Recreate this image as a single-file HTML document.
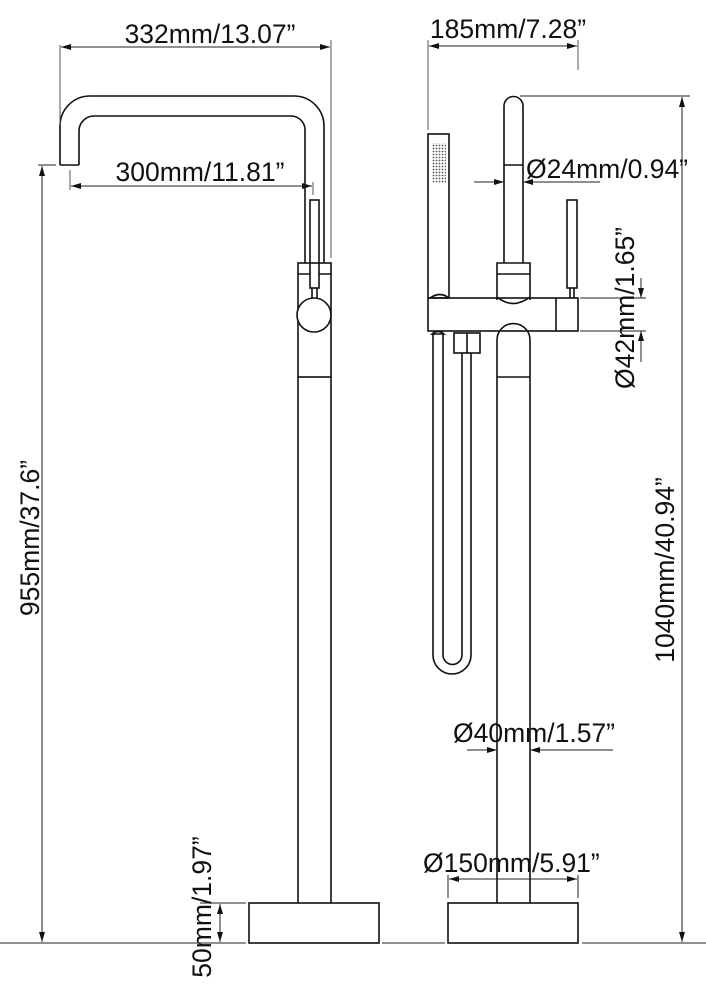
<!DOCTYPE html>
<html><head><meta charset="utf-8"><style>
html,body{margin:0;padding:0;background:#fff}
svg{display:block}
text{font-family:"Liberation Sans",sans-serif;font-size:26.5px;fill:#111}
</style></head><body>
<svg width="706" height="990" viewBox="0 0 706 990" xmlns="http://www.w3.org/2000/svg">
<defs>
<marker id="a" viewBox="0 0 10 6" refX="10" refY="3" markerWidth="14" markerHeight="6" markerUnits="userSpaceOnUse" orient="auto-start-reverse"><path d="M0,0L10,3L0,6z" fill="#111"/></marker>
<pattern id="dots" width="3" height="3" patternUnits="userSpaceOnUse"><circle cx="1.5" cy="1.5" r="0.9" fill="#555"/></pattern>
</defs>
<g fill="none" stroke="#111" stroke-width="1.6">
<path d="M60,165 V126 A30,30 0 0 1 90,96 H294 A30,30 0 0 1 324,126 V263"/>
<path d="M79,165 V131 A15,15 0 0 1 94,116 H291 A14,14 0 0 1 305,130 V263"/>
<path d="M60,165 H79"/>
<rect x="310" y="200" width="9" height="88"/>
<path d="M312,288 V299 M317,288 V299"/>
<rect x="298" y="263" width="33" height="114"/>
<path d="M298,274 H310 M319,274 H331"/>
<circle cx="314" cy="315" r="17" fill="#fff"/>
<path d="M298,377 V903 M331,377 V903"/>
<rect x="249" y="903" width="130" height="40"/>
<path d="M504,263 V106 A9.5,9.5 0 0 1 523,106 V263"/>
<path d="M504,165 H523"/>
<path d="M497,300 V263 H530 V300 M497,274 H530"/>
<path d="M497,297 Q513,310 530,297"/>
<rect x="428" y="134" width="21" height="164"/>
<rect x="432" y="143" width="14" height="40" fill="url(#dots)" stroke="none"/>
<path d="M430,298 Q440,291 449,298"/>
<rect x="428" y="298" width="150" height="33"/>
<path d="M556,298 V331"/>
<rect x="567" y="200" width="10" height="88"/>
<path d="M570,288 V298 M574,288 V298"/>
<path d="M497,903 V340 A16.5,16.5 0 0 1 530,340 V903 M497,377 H530"/>
<rect x="448" y="903" width="130" height="40"/>
<path d="M433,334 V655 A19,19 0 0 0 471,655 V353"/>
<path d="M443,334 V655 A9,9 0 0 0 462,655 V353"/>
<path d="M432,334 Q438,329 444,334 Z" fill="#fff"/>
<rect x="454" y="333" width="26" height="20"/>
<path d="M467,333 V353"/>
</g>
<g fill="none" stroke="#222" stroke-width="1">
<path d="M60,45 V125 M331,40 V258" stroke="#555"/>
<path d="M61,47 H330" marker-start="url(#a)" marker-end="url(#a)"/>
<path d="M70,170 V190 M313,182 V195" stroke="#555"/>
<path d="M71,186 H312" marker-start="url(#a)" marker-end="url(#a)"/>
<path d="M38,165 H56"/>
<path d="M42,166 V942" marker-start="url(#a)" marker-end="url(#a)"/>
<path d="M0,943 H246 M382,943 H445 M582,943 H706"/>
<path d="M200,903 H246"/>
<path d="M220,904 V942" marker-start="url(#a)" marker-end="url(#a)"/>
<path d="M428,40 V130 M578,40 V70" stroke="#555"/>
<path d="M429,46 H577" marker-start="url(#a)" marker-end="url(#a)"/>
<path d="M520,96 H690"/>
<path d="M682,97 V942" marker-start="url(#a)" marker-end="url(#a)"/>
<path d="M474,182 H504" marker-end="url(#a)"/>
<path d="M600,182 H523" marker-end="url(#a)"/>
<path d="M580,298 H646 M580,331 H646"/>
<path d="M641,278 V298" marker-end="url(#a)"/>
<path d="M641,362 V331" marker-end="url(#a)"/>
<path d="M467,750 H497" marker-end="url(#a)"/>
<path d="M613,750 H530" marker-end="url(#a)"/>
<path d="M448,898 V875 M578,898 V875"/>
<path d="M449,879 H577" marker-start="url(#a)" marker-end="url(#a)"/>
</g>
<text x="210" y="43" text-anchor="middle">332mm/13.07”</text>
<text x="200" y="181" text-anchor="middle">300mm/11.81”</text>
<text x="508" y="38" text-anchor="middle">185mm/7.28”</text>
<text x="526" y="178">Ø24mm/0.94”</text>
<text x="453" y="742">Ø40mm/1.57”</text>
<text x="423" y="872">Ø150mm/5.91”</text>
<text transform="translate(39,538) rotate(-90)" text-anchor="middle">955mm/37.6”</text>
<text transform="translate(211,907) rotate(-90)" text-anchor="middle">50mm/1.97”</text>
<text transform="translate(674,570) rotate(-90)" text-anchor="middle">1040mm/40.94”</text>
<text transform="translate(634,308) rotate(-90)" text-anchor="middle">Ø42mm/1.65”</text>
</svg>
</body></html>
